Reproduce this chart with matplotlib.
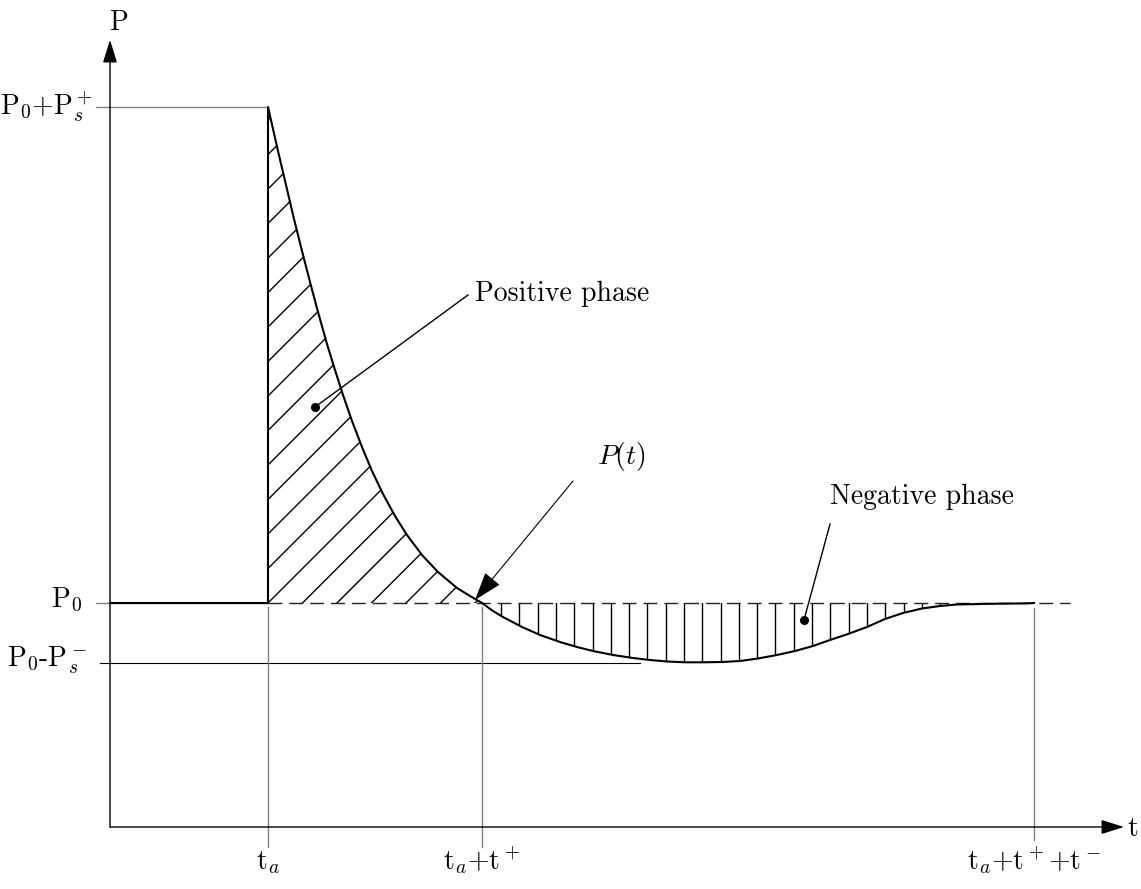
import numpy as np
import matplotlib
matplotlib.use('Agg')
import matplotlib.pyplot as plt
from matplotlib.patches import Polygon

plt.rcParams['font.family'] = 'cmr10'
plt.rcParams['mathtext.fontset'] = 'cm'
plt.rcParams['axes.unicode_minus'] = False

# key times and pressures (arbitrary units)
t_a = 1.58      # arrival time
t_pos = 3.72    # t_a + t+
t_end = 9.24    # t_a + t+ + t-
P0 = 2.24
P_peak = 7.20
P_min = 1.64

# P(t)
t_curve = [1.58, 1.68, 1.76, 1.84, 1.92, 2.00, 2.08, 2.17, 2.25, 2.33,
           2.42, 2.52, 2.62, 2.73, 2.85, 2.97, 3.12, 3.28, 3.47, 3.60,
           3.72, 3.83, 3.93, 4.12, 4.30, 4.50, 4.67, 4.83, 5.03, 5.23,
           5.40, 5.57, 5.75, 5.93, 6.12, 6.30, 6.48, 6.67, 6.85, 7.03,
           7.20, 7.38, 7.57, 7.75, 7.93, 8.12, 8.30, 8.47, 8.80, 9.13,
           9.24]
P_curve = [7.20, 6.76, 6.42, 6.08, 5.76, 5.45, 5.15, 4.83, 4.57, 4.32,
           4.06, 3.80, 3.56, 3.33, 3.11, 2.92, 2.72, 2.55, 2.39, 2.31,
           2.24, 2.16, 2.10, 2.00, 1.92, 1.85, 1.80, 1.76, 1.72, 1.69,
           1.67, 1.655, 1.647, 1.647, 1.65, 1.66, 1.685, 1.72, 1.76, 1.81,
           1.87, 1.93, 2.00, 2.08, 2.14, 2.185, 2.21, 2.225, 2.232, 2.236,
           2.24]

p_labels = ['P$_0$+P$_s^+$', 'P$_0$', 'P$_0$-P$_s^-$']
p_values = [P_peak, P0, P_min]
t_labels = ['t$_a$', 't$_a$+t$^+$', 't$_a$+t$^+$+t$^-$']
t_values = [t_a, t_pos, t_end]

fig = plt.figure(figsize=(11.41, 8.89), dpi=100)
ax = fig.add_axes([0, 0, 1, 1])
ax.set_xlim(-1.10, 10.31)
ax.set_ylim(-0.62, 8.27)
ax.axis('off')

t_arr = np.array(t_curve)
P_arr = np.array(P_curve)

# regions between the curve and P0, used to clip the hatching
pos = t_arr <= t_pos
pos_poly = Polygon(np.column_stack([np.r_[t_arr[pos], t_a], np.r_[P_arr[pos], P0]]),
                   closed=True, fill=False, edgecolor='none')
neg = t_arr >= t_pos
neg_poly = Polygon(np.column_stack([t_arr[neg], P_arr[neg]]),
                   closed=True, fill=False, edgecolor='none')
ax.add_patch(pos_poly)
ax.add_patch(neg_poly)

# diagonal hatching of the positive phase
for k in range(-16, 8):
    c = t_a + 0.345 * k
    ln, = ax.plot([c, c + 8], [P0, P0 + 8], color='black', lw=1.0)
    ln.set_clip_path(pos_poly)

# vertical hatching of the negative phase
for x in np.arange(t_pos + 0.19, t_end, 0.183):
    ln, = ax.plot([x, x], [P0, P_min - 0.1], color='black', lw=1.0)
    ln.set_clip_path(neg_poly)

# reference lines
ax.plot([t_a, 9.60], [P0, P0], color='#222222', lw=1.0, dashes=(10, 5))
ax.plot([-0.14, t_a], [P_peak, P_peak], color='#808080', lw=1.0)
ax.plot([-0.14, t_a], [P0, P0], color='#808080', lw=1.0)
ax.plot([-0.10, 5.30], [P_min, P_min], color='black', lw=0.8)
ax.plot([t_a, t_a], [P0 - 0.04, -0.20], color='#808080', lw=1.0)
ax.plot([t_pos, t_pos], [P0 - 0.04, -0.20], color='#808080', lw=1.0)
ax.plot([t_end, t_end], [P0 - 0.05, -0.13], color='#808080', lw=1.0)

# P(t)
ax.plot([0, t_a] + t_curve, [P0, P0] + P_curve, color='black', lw=1.5,
        solid_joinstyle='round')

# axes with arrows
arrow = dict(arrowstyle='-|>,head_length=0.7,head_width=0.22', color='black',
             lw=1.0, shrinkA=0, shrinkB=0, mutation_scale=20)
ax.annotate('', xy=(0, 7.87), xytext=(0, 0), arrowprops=arrow)
ax.annotate('', xy=(10.14, 0), xytext=(0, 0), arrowprops=arrow)
ax.text(0.08, 7.97, 'P', fontsize=20, ha='center', va='baseline')
ax.text(10.23, -0.09, 't', fontsize=20, ha='center', va='baseline')

# tick-like labels
p_x = [-0.17, -0.28, -0.23]
p_y = [7.12, 2.20, 1.60]
for lab, x, y in zip(p_labels, p_x, p_y):
    ax.text(x, y, lab, fontsize=20, ha='right', va='baseline')
for lab, t in zip(t_labels, t_values):
    ax.text(t, -0.42, lab, fontsize=20, ha='center', va='baseline')

# annotations
ax.plot([2.05, 3.58], [4.20, 5.32], color='black', lw=1.0)
ax.plot([2.05], [4.20], 'o', color='black', ms=5.5)
ax.text(3.65, 5.26, 'Positive phase', fontsize=20, ha='left', va='baseline')

ax.annotate('', xy=(3.65, 2.27), xytext=(4.63, 3.46),
            arrowprops=dict(arrowstyle='-|>,head_length=0.9,head_width=0.3',
                            color='black', lw=0.8, shrinkA=0, shrinkB=0,
                            mutation_scale=20))
ax.text(4.87, 3.63, '$P(t)$', fontsize=20, ha='left', va='baseline')

ax.plot([6.94, 7.20], [2.07, 3.03], color='black', lw=1.0)
ax.plot([6.94], [2.07], 'o', color='black', ms=5.5)
ax.text(7.20, 3.23, 'Negative phase', fontsize=20, ha='left', va='baseline')

fig.savefig('out.png', dpi=100)
